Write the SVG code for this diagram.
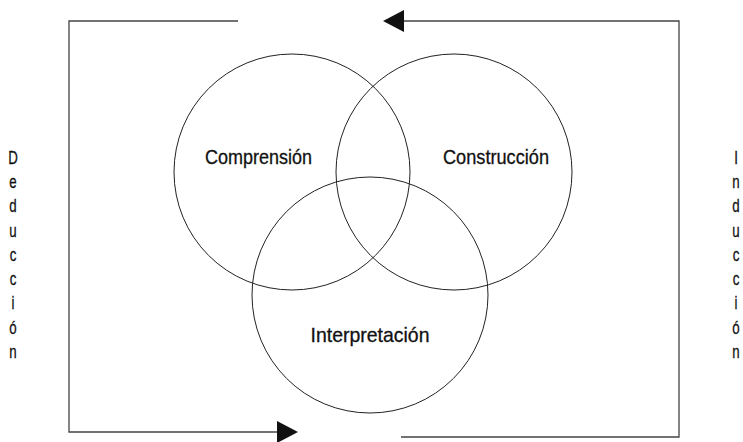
<svg xmlns="http://www.w3.org/2000/svg" width="743" height="442" viewBox="0 0 743 442">
<style>
.c{fill:none;stroke:#222;stroke-width:1}
.l{fill:none;stroke:#444;stroke-width:1.3}
.h{fill:#111}
.t{font-family:"Liberation Sans",Arial,sans-serif;font-size:21px;fill:#111;stroke:#111;stroke-width:0.3;text-anchor:middle}
.v{font-family:"Liberation Sans",Arial,sans-serif;font-size:19px;fill:#111;stroke:#111;stroke-width:0.3;text-anchor:middle}
</style>
<rect width="743" height="442" fill="#fff"/>
<g id="connectors">
<polyline class="l" points="238,21 69,21 69,432 278,432"/>
<polygon class="h" points="277,421 298,432 277,443"/>
<polyline class="l" points="404,21 679,21 679,437 401,437"/>
<polygon class="h" points="383,21 404,10 404,32"/>
</g>
<g id="comprension">
<circle class="c" cx="292" cy="172" r="118"/>
<text class="t" x="258.5" y="164" textLength="107" lengthAdjust="spacingAndGlyphs">Comprensión</text>
</g>
<g id="construccion">
<circle class="c" cx="454" cy="172" r="118"/>
<text class="t" x="496" y="164" textLength="106" lengthAdjust="spacingAndGlyphs">Construcción</text>
</g>
<g id="interpretacion">
<circle class="c" cx="370" cy="295" r="118"/>
<text class="t" x="370" y="342" textLength="119" lengthAdjust="spacingAndGlyphs">Interpretación</text>
</g>
<g id="deduccion" transform="translate(13,0) scale(0.7,1)">
<text class="v" x="0" y="164">D</text>
<text class="v" x="0" y="188">e</text>
<text class="v" x="0" y="212">d</text>
<text class="v" x="0" y="237">u</text>
<text class="v" x="0" y="261">c</text>
<text class="v" x="0" y="285">c</text>
<text class="v" x="0" y="309">i</text>
<text class="v" x="0" y="334">ó</text>
<text class="v" x="0" y="358">n</text>
</g>
<g id="induccion" transform="translate(736,0) scale(0.7,1)">
<text class="v" x="0" y="164">I</text>
<text class="v" x="0" y="188">n</text>
<text class="v" x="0" y="212">d</text>
<text class="v" x="0" y="237">u</text>
<text class="v" x="0" y="261">c</text>
<text class="v" x="0" y="285">c</text>
<text class="v" x="0" y="309">i</text>
<text class="v" x="0" y="334">ó</text>
<text class="v" x="0" y="358">n</text>
</g>
</svg>
